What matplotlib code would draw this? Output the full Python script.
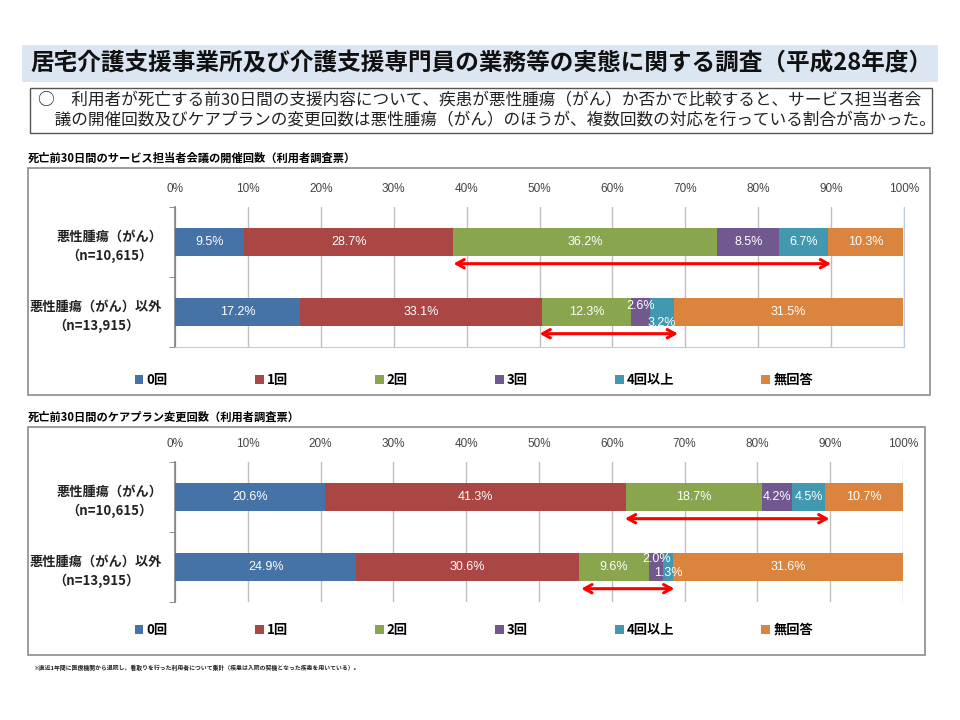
import matplotlib
matplotlib.use('Agg')
import matplotlib.pyplot as plt
from matplotlib.patches import Rectangle, Patch
import numpy as np

plt.rcParams['font.family'] = ['Noto Sans CJK JP', 'DejaVu Sans']

# data
categories = ['悪性腫瘍（がん）\n（n=10,615）', '悪性腫瘍（がん）以外\n（n=13,915）']
series_names = ['0回', '1回', '2回', '3回', '4回以上', '無回答']
colors = ['#4572A7', '#AA4643', '#89A54E', '#71588F', '#4198AF', '#DB843D']

meeting_cancer = [9.5, 28.7, 36.2, 8.5, 6.7, 10.3]
meeting_other = [17.2, 33.1, 12.3, 2.6, 3.2, 31.5]
plan_cancer = [20.6, 41.3, 18.7, 4.2, 4.5, 10.7]
plan_other = [24.9, 30.6, 9.6, 2.0, 1.3, 31.6]

# red arrows (start %, end %) per bar
meeting_arrows = [(38.2, 90.0), (50.0, 69.0)]
plan_arrows = [(61.8, 89.9), (55.8, 68.6)]

title = '居宅介護支援事業所及び介護支援専門員の業務等の実態に関する調査（平成28年度）'
note = ('○　利用者が死亡する前30日間の支援内容について、疾患が悪性腫瘍（がん）か否かで比較すると、サービス担当者会\n'
        '　議の開催回数及びケアプランの変更回数は悪性腫瘍（がん）のほうが、複数回数の対応を行っている割合が高かった。')
sub1 = '死亡前30日間のサービス担当者会議の開催回数（利用者調査票）'
sub2 = '死亡前30日間のケアプラン変更回数（利用者調査票）'
footnote = '※直近1年間に医療機関から退院し、看取りを行った利用者について集計（疾患は入院の契機となった疾患を用いている）。'

W, H = 960, 720
fig = plt.figure(figsize=(9.6, 7.2), dpi=100)


def fx(px):
    return px / W


def fy(py):
    return 1 - py / H


# title band and note box
fig.patches.append(Rectangle((fx(22), fy(82)), fx(916), 37 / H, transform=fig.transFigure,
                             facecolor='#DCE6F2', edgecolor='none', zorder=-1))
fig.text(fx(30), fy(63), title, fontsize=17, fontweight='bold', va='center', color='#111111')
fig.patches.append(Rectangle((fx(30), fy(133)), fx(902), 45 / H, transform=fig.transFigure,
                             facecolor='none', edgecolor='#555555', lw=1.0, zorder=-1))
fig.text(fx(38), fy(111), note, fontsize=12, va='center', linespacing=1.2, color='#222222')


def draw_chart(box, ax_rect, subtitle, rows, arrows, small_labels, legend_y, blue_frame):
    bx0, by0, bx1, by1 = box
    fig.text(fx(bx0), fy(by0 - 10), subtitle, fontsize=8.1, fontweight='bold', va='center')
    fig.patches.append(Rectangle((fx(bx0), fy(by1)), fx(bx1 - bx0), (by1 - by0) / H,
                                 transform=fig.transFigure, facecolor='none',
                                 edgecolor='#8C8C8C', lw=1.2, zorder=-1))
    x0, y0, x1, y1 = ax_rect
    ax = fig.add_axes([fx(x0), fy(y1), fx(x1 - x0), (y1 - y0) / H])
    ax.set_facecolor('none')
    y = np.arange(len(rows))
    data = np.array(rows)
    left = np.zeros(len(rows))
    for j, name in enumerate(series_names):
        vals = data[:, j]
        ax.barh(y, vals, left=left, height=0.39, color=colors[j], label=name, zorder=3)
        for i in range(len(rows)):
            off = small_labels.get((i, j), 0)
            ax.annotate(f'{vals[i]:.1f}%', (left[i] + vals[i] / 2, y[i]),
                        xytext=(0, off), textcoords='offset points',
                        ha='center', va='center', color='white', fontsize=9,
                        family=['Liberation Sans', 'DejaVu Sans'], zorder=4, clip_on=False)
        left += vals
    for i, (a, b) in enumerate(arrows):
        ax.annotate('', xy=(b, y[i] + 0.31), xytext=(a, y[i] + 0.31),
                    arrowprops=dict(arrowstyle='<->,head_length=0.55,head_width=0.3',
                                    color='#FF0000', lw=2.2, shrinkA=0, shrinkB=0), zorder=5)
    ax.set_xlim(0, 100)
    ax.set_ylim(len(rows) - 0.5, -0.5)
    ax.xaxis.tick_top()
    ax.set_xticks(range(0, 101, 10))
    ax.set_xticklabels([f'{v}%' for v in range(0, 101, 10)], fontsize=8.5, color='#444444',
                       family=['Liberation Sans', 'DejaVu Sans'])
    ax.tick_params(axis='x', length=0, pad=9)
    ax.set_yticks(y)
    ax.set_yticklabels(categories, fontsize=9.5, fontweight='bold', multialignment='center',
                       color='#222222', linespacing=1.5)
    ax.tick_params(axis='y', length=0, pad=9)
    ax.set_yticks([-0.5, 0.5, 1.5], minor=True)
    ax.tick_params(axis='y', which='minor', length=4, color='#808080')
    ax.grid(axis='x', color='#BFBFBF', lw=1, zorder=0)
    ax.spines['top'].set_visible(False)
    ax.spines['left'].set_color('#808080')
    ax.spines['left'].set_linewidth(1.2)
    if blue_frame:
        ax.spines['right'].set_color('#B9CDE5')
        ax.spines['bottom'].set_color('#B9CDE5')
    else:
        ax.spines['right'].set_visible(False)
        ax.spines['bottom'].set_visible(False)
    handles = [Patch(facecolor=c, label=n) for c, n in zip(colors, series_names)]
    fig.legend(handles=handles, loc='center left', bbox_to_anchor=(fx(123), fy(legend_y)),
               ncol=6, frameon=False, handlelength=0.65, handleheight=0.65, handletextpad=0.25,
               columnspacing=6.6, prop={'size': 9.5, 'weight': 'bold'})
    return ax


draw_chart((28, 168, 930, 395), (175, 207, 904, 347), sub1,
           [meeting_cancer, meeting_other], meeting_arrows,
           {(1, 3): 4, (1, 4): -8}, 380, True)
draw_chart((28, 427, 925, 655), (175, 462, 903, 602), sub2,
           [plan_cancer, plan_other], plan_arrows,
           {(1, 3): 6, (1, 4): -4}, 630, False)

fig.text(fx(33), fy(668), footnote, fontsize=4.2, fontweight='bold', va='center', color='#222222')

fig.savefig('out.png', dpi=100)
